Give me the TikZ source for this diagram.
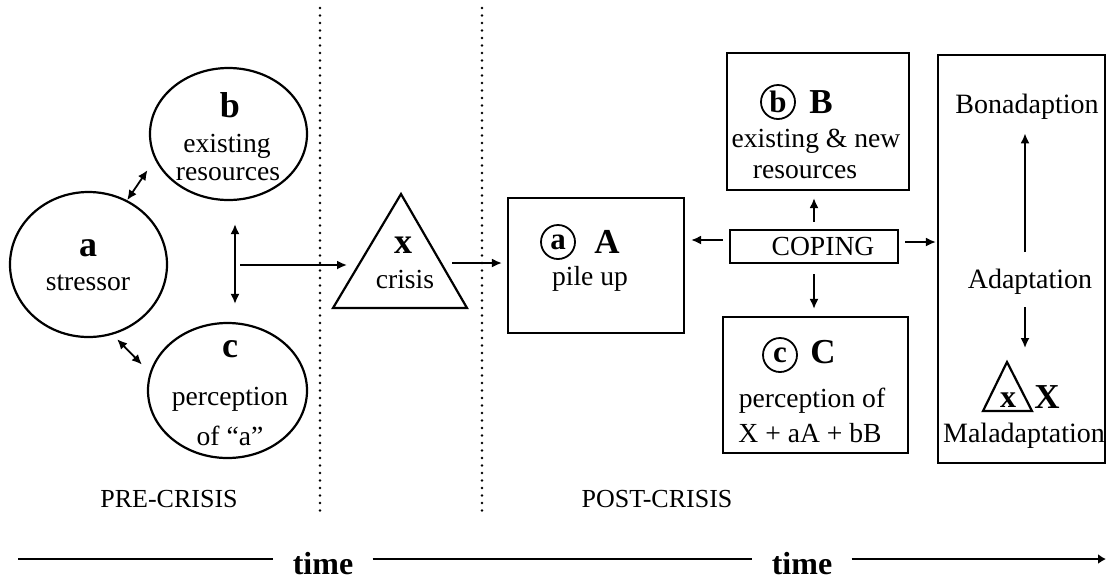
\documentclass[tikz,border=0pt]{standalone}
\usepackage{fontspec}
\setmainfont{Liberation Serif}
\usepackage{tikz}
\usetikzlibrary{shapes.geometric,arrows.meta,positioning}
\tikzset{>=stealth}
\tikzstyle{ellip} = [draw, ellipse, line width=1.1pt, inner sep=0pt]
\tikzstyle{box} = [draw, rectangle, line width=1.1pt, inner sep=0pt]
\tikzstyle{line} = [draw, line width=0.9pt, -{Latex[length=5pt,width=4.5pt]}]
\tikzstyle{dline} = [draw, line width=0.9pt, {Latex[length=5pt,width=4.5pt]}-{Latex[length=5pt,width=4.5pt]}]

\begin{document}
\begin{tikzpicture}[x=0.5pt, y=-0.5pt,
	txt/.style={anchor=base, inner sep=1pt, font=\fontsize{13.8}{15}\selectfont},
	big/.style={anchor=base, inner sep=1pt, font=\bfseries\fontsize{18}{18}\selectfont},
	capl/.style={anchor=base, inner sep=1pt, font=\bfseries\fontsize{17.5}{17.5}\selectfont},
	circ/.style={draw, circle, line width=0.9pt, minimum size=17pt, inner sep=0pt,
	font=\bfseries\fontsize{15.5}{15.5}\selectfont},
	dotline/.style={line width=1.3pt, dash pattern=on 0pt off 3.75pt, line cap=round}]
	\useasboundingbox (0,0) rectangle (1108,580);
	%% Pre-crisis
	\node [ellip, minimum width=78.5pt, minimum height=72.5pt] (a) at (88.5,264.5) {};
	\node [ellip, minimum width=78.5pt, minimum height=66pt] (b) at (228.5,134) {};
	\node [ellip, minimum width=79.5pt, minimum height=67.5pt] (c) at (227.5,390.5) {};
	\node [big] (a_l) at (88,256) {a};
	\node [txt] (a_t) at (88,290) {stressor};
	\node [big] (b_l) at (230,117) {b};
	\node [txt] (b_t1) at (227,152) {existing};
	\node [txt] (b_t2) at (228,180) {resources};
	\node [big] (c_l) at (230,357) {c};
	\node [txt] (c_t1) at (230,405) {perception};
	\node [txt] (c_t2) at (230,445) {of “a”};
	%% Crisis
	\coordinate (x_top) at (401,194);
	\coordinate (x_left) at (333,308);
	\coordinate (x_right) at (467,308);
	\draw [line width=1.1pt] (x_top) -- (x_right) -- (x_left) -- cycle;
	\node [big] (x_l) at (403,253) {x};
	\node [txt] (x_t) at (405,288) {crisis};
	%% Post-crisis
	\node [box, minimum width=88pt, minimum height=67.5pt] (boxA) at (596,265.5) {};
	\node [circ] (a_c) at (558,242) {a};
	\node [capl] (A_l) at (607,253) {A};
	\node [txt] (A_t) at (590,285) {pile up};
	\node [box, minimum width=91pt, minimum height=68.5pt] (boxB) at (818,121.5) {};
	\node [circ] (b_c) at (778,102) {b};
	\node [capl] (B_l) at (821,113) {B};
	\node [txt] (B_t1) at (816,147) {existing \& new};
	\node [txt] (B_t2) at (805,178) {resources};
	\node [box, minimum width=92.5pt, minimum height=68pt] (boxC) at (815.5,385) {};
	\node [circ] (c_c) at (780,355) {c};
	\node [capl] (C_l) at (823,363) {C};
	\node [txt] (C_t1) at (812,407) {perception of};
	\node [txt] (C_t2) at (810,442) {X + aA + bB};
	\node [box, minimum width=84pt, minimum height=16.5pt,
	font=\fontsize{13.8}{15}\selectfont] (coping) at (814,246.5) {\hspace*{9pt}COPING};
	%% Adaptation
	\node [box, minimum width=83.5pt, minimum height=204pt] (adbox) at (1021.5,259) {};
	\node [txt, font=\fontsize{14}{16}\selectfont] (bona) at (1027,113) {Bonadaption};
	\node [txt, font=\fontsize{14}{16}\selectfont] (adapt) at (1030,288) {Adaptation};
	\node [txt, font=\fontsize{14}{16}\selectfont] (mala) at (1024,442) {Maladaptation};
	\coordinate (m_top) at (1007,362);
	\coordinate (m_left) at (983,411);
	\coordinate (m_right) at (1032,411);
	\draw [line width=1.1pt] (m_top) -- (m_right) -- (m_left) -- cycle;
	\node [anchor=base, inner sep=1pt, font=\bfseries\fontsize{16}{16}\selectfont] (m_x) at (1008,407) {x};
	\node [capl] (X_l) at (1047,408) {X};
	%% Arrows
	\path [dline, shorten >=6.5pt] (a.59) -- (b.199);
	\path [dline, shorten <=3.2pt, shorten >=5.6pt] (a.289) -- (c.167);
	\path [dline, shorten <=11.5pt, shorten >=9pt] ([xshift=3.25pt]b.south) -- ([xshift=3.25pt]b.south |- c.north);
	\coordinate (bc) at (240,265);
	\coordinate (x_in) at (347,265);
	\coordinate (x_out) at (452,263);
	\path [line] (bc) -- (x_in);
	\path [line, shorten >=2.5pt] (x_out) -- (x_out -| boxA.west);
	\path [line, shorten <=3pt, shorten >=3pt] ([yshift=3.25pt]coping.west) -- ([yshift=3.25pt]coping.west -| boxA.east);
	\path [line, shorten <=3.5pt, shorten >=3.5pt] (coping.north) -- (coping.north |- boxB.south);
	\path [line, shorten <=5pt, shorten >=3.5pt] (coping.south) -- (coping.south |- boxC.north);
	\path [line, shorten <=3pt, shorten >=0.5pt] ([yshift=2.25pt]coping.east) -- ([yshift=2.25pt]coping.east -| adbox.west);
	\path [line, shorten <=7pt, shorten >=6pt] ([xshift=-2.5pt]adapt.north) -- ([xshift=-2.5pt]adapt.north |- bona.south);
	\path [line, shorten <=5.5pt, shorten >=7pt] ([xshift=-2.5pt]adapt.south) -- ([xshift=-2.5pt]adapt.south |- m_top);
	%% Phases
	\draw [dotline] (320,8) -- (320,512);
	\draw [dotline] (482,8) -- (482,512);
	\node [txt, font=\fontsize{13}{15}\selectfont] (pre) at (169,507) {PRE-CRISIS};
	\node [txt, font=\fontsize{13}{15}\selectfont] (post) at (657,507) {POST-CRISIS};
	%% The time line
	\node [anchor=base, inner xsep=9.5pt, inner ysep=0pt, font=\bfseries\fontsize{16}{16}\selectfont] (time1) at (323,574) {time};
	\node [anchor=base, inner xsep=9.5pt, inner ysep=0pt, font=\bfseries\fontsize{16}{16}\selectfont] (time2) at (802,574) {time};
	\coordinate (t_start) at (18,559);
	\coordinate (t_end) at (1106,559);
	\draw [line width=1.1pt] (t_start) -- (t_start -| time1.west);
	\draw [line width=1.1pt] (time1.east |- t_start) -- (time2.west |- t_start);
	\draw [line width=1.1pt, -{Latex[length=4pt,width=5pt]}] (time2.east |- t_start) -- (t_end);
\end{tikzpicture}
\end{document}
